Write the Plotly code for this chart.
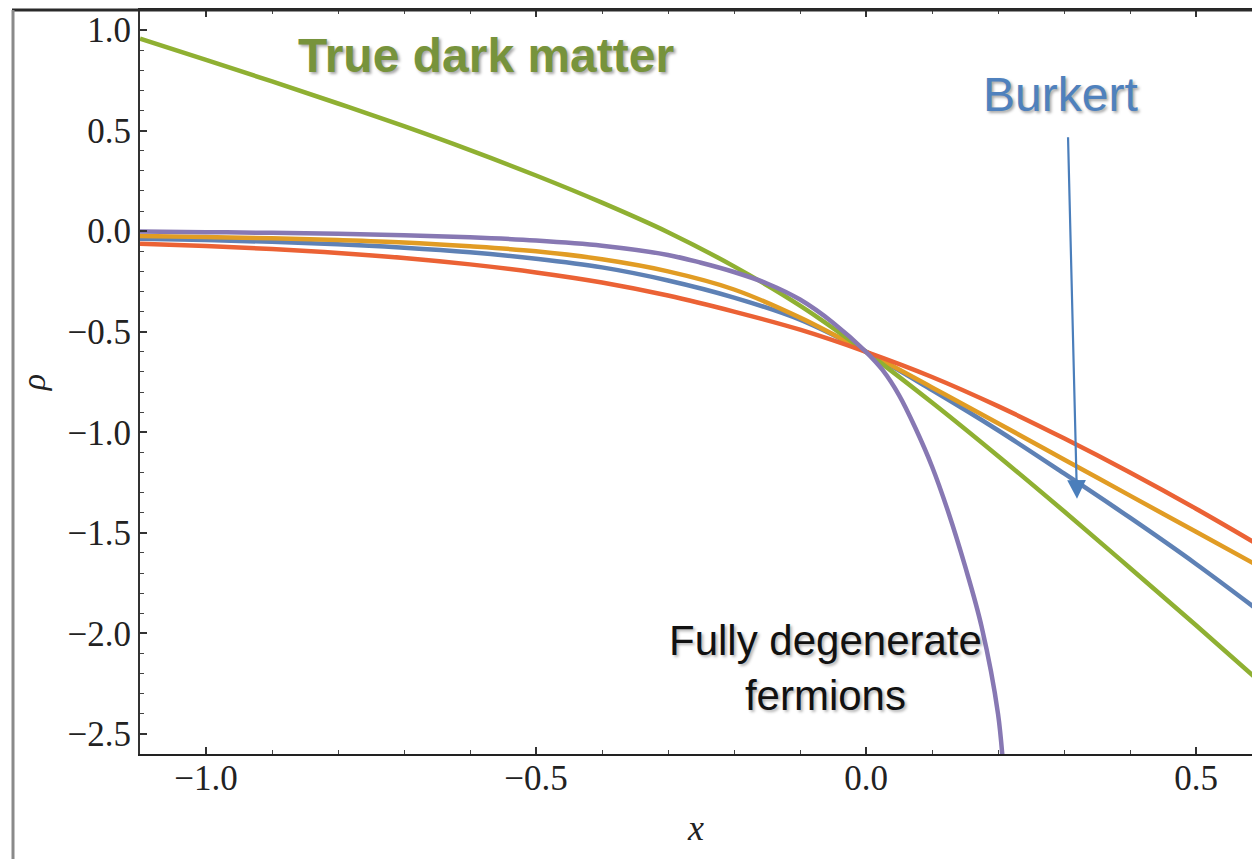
import plotly.graph_objects as go

# log-radius grid shared by the smooth profiles
x_grid = [-1.1, -1.0, -0.9, -0.8, -0.7, -0.6, -0.5, -0.4, -0.3, -0.2, -0.1, 0.0,
          0.1, 0.2, 0.3, 0.4, 0.5, 0.6]

rho_burkert = [-0.038, -0.044, -0.053, -0.065, -0.082, -0.105, -0.137, -0.18, -0.245, -0.33, -0.44, -0.60,
               -0.79, -0.99, -1.205, -1.425, -1.655, -1.90]
rho_orange = [-0.024, -0.029, -0.035, -0.044, -0.056, -0.075, -0.10, -0.14, -0.20, -0.29, -0.43, -0.60,
              -0.777, -0.955, -1.135, -1.315, -1.495, -1.675]
rho_red = [-0.062, -0.074, -0.089, -0.108, -0.133, -0.165, -0.205, -0.255, -0.32, -0.40, -0.49, -0.60,
           -0.725, -0.87, -1.03, -1.20, -1.38, -1.57]
rho_true = [0.957, 0.852, 0.745, 0.635, 0.522, 0.403, 0.277, 0.142, -0.005, -0.175, -0.37, -0.60,
            -0.852, -1.118, -1.393, -1.675, -1.96, -2.25]

# fully degenerate fermions: flat core, sharp edge (finer sampling near the edge)
x_fermi = [-1.1, -1.0, -0.9, -0.8, -0.7, -0.6, -0.5, -0.4, -0.3, -0.25, -0.2, -0.15, -0.1, -0.05,
           0.0, 0.025, 0.05, 0.075, 0.1, 0.125, 0.15, 0.175, 0.2, 0.21, 0.215]
rho_fermi = [-0.002, -0.005, -0.008, -0.013, -0.02, -0.03, -0.046, -0.072, -0.118, -0.157, -0.203, -0.26,
             -0.34, -0.455, -0.60, -0.69, -0.815, -0.98, -1.17, -1.40, -1.665, -1.965, -2.40, -2.75, -3.0]

x_ticks = [-1.0, -0.5, 0.0, 0.5]

BLUE = "#5E81B5"
ORANGE = "#E19C24"
GREEN = "#8FB032"
RED = "#EB6235"
PURPLE = "#8778B3"

serif = "Liberation Serif, Times New Roman, serif"
sans = "Liberation Sans, Arial, sans-serif"

fig = go.Figure()
series = [
    ("Burkert", x_grid, rho_burkert, BLUE),
    ("Profile B", x_grid, rho_orange, ORANGE),
    ("True dark matter", x_grid, rho_true, GREEN),
    ("Profile D", x_grid, rho_red, RED),
    ("Fully degenerate fermions", x_fermi, rho_fermi, PURPLE),
]
for name, xs, ys, col in series:
    fig.add_trace(go.Scatter(
        x=xs, y=ys, mode="lines", name=name,
        line=dict(color=col, width=4.5, shape="spline", smoothing=1.0),
        showlegend=False,
    ))

fig.update_layout(
    width=1252, height=859,
    margin=dict(l=140, r=0, t=10, b=105),
    plot_bgcolor="white", paper_bgcolor="white",
)

fig.update_xaxes(
    range=[-1.1, -1.1 + 1112 / 660],
    tickvals=x_ticks, tickformat=".1f",
    showgrid=False, zeroline=False,
    showline=True, linecolor="#222", linewidth=2, mirror="ticks",
    ticks="inside", ticklen=7, tickwidth=1.5, tickcolor="#333",
    minor=dict(dtick=0.1, ticks="inside", ticklen=4, tickwidth=1, tickcolor="#444"),
    tickfont=dict(family=serif, size=35, color="#222"),
    ticklabelstandoff=-8,
    title=dict(text="<i>x</i>", font=dict(family=serif, size=36, color="#222"), standoff=18),
    automargin=False,
)
fig.update_yaxes(
    range=[-2.6, 1.1],
    dtick=0.5, tickformat=".1f",
    showgrid=False, zeroline=False,
    showline=True, linecolor="#333", linewidth=2,
    ticks="inside", ticklen=7, tickwidth=1.5, tickcolor="#333",
    minor=dict(dtick=0.1, ticks="inside", ticklen=4, tickwidth=1, tickcolor="#444"),
    tickfont=dict(family=serif, size=35, color="#222"),
    ticklabelstandoff=0,
    title=dict(text="<i>ρ</i>", font=dict(family=serif, size=34, color="#222"), standoff=12),
    automargin=False,
)

# outer frame of the panel
fig.add_shape(type="line", xref="paper", yref="paper",
              x0=(12 - 140) / 1112, x1=1.0, y0=1.0, y1=1.0,
              line=dict(color="#2a2a2a", width=3))
fig.add_shape(type="line", xref="paper", yref="paper",
              x0=(13 - 140) / 1112, x1=(13 - 140) / 1112, y0=-0.15, y1=1.0,
              line=dict(color="#8a8a8a", width=3))

shadow = "2px 2px 3px rgba(0,0,0,0.35)"

fig.add_annotation(
    x=-0.576, y=0.875, xref="x", yref="y", showarrow=False,
    text="True dark matter", xanchor="center", yanchor="middle",
    font=dict(family=sans, size=48, color="#77933C", weight="bold", shadow=shadow),
)
fig.add_annotation(
    x=0.295, y=0.68, xref="x", yref="y", showarrow=False,
    text="Burkert", xanchor="center", yanchor="middle",
    font=dict(family=sans, size=48, color="#4F81BD", shadow=shadow),
)
fig.add_annotation(
    x=-0.062, y=-2.17, xref="x", yref="y", showarrow=False,
    text="Fully degenerate<br>fermions", xanchor="center", yanchor="middle", align="center",
    font=dict(family=sans, size=42, color="#111", shadow="2px 2px 3px rgba(0,0,0,0.3)"),
)
# pointer from the Burkert label down to its curve
fig.add_annotation(
    x=0.3197, y=-1.331, xref="x", yref="y", ax=-9, ay=-363,
    text="", showarrow=True, arrowhead=2, arrowsize=1.7, arrowwidth=2.2,
    arrowcolor="#4A7EBB", standoff=0,
)

fig.write_html("out.html")
